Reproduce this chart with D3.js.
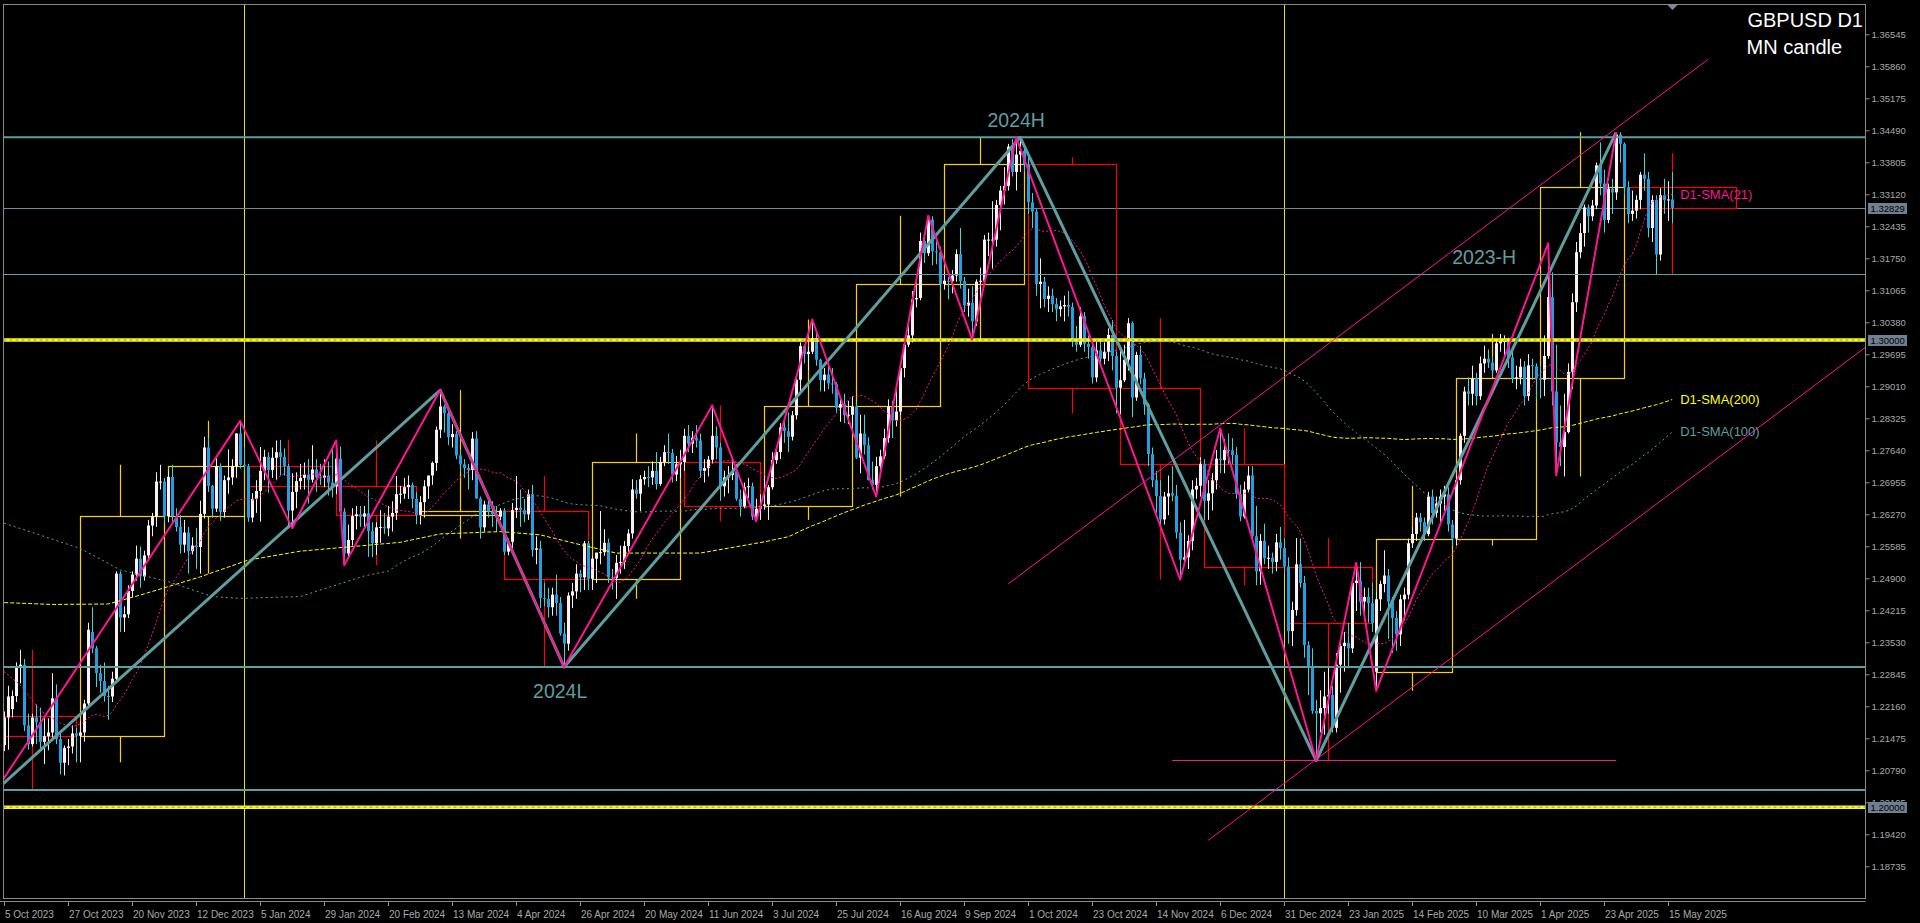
<!DOCTYPE html>
<html><head><meta charset="utf-8">
<script src="https://cdn.jsdelivr.net/npm/d3@7"></script>
<style>html,body{margin:0;padding:0;background:#000;overflow:hidden}</style>
</head><body><svg id="c" width="1920" height="923"></svg>
<script>
// ---------------- DATA ----------------
const holidays = ["2023-12-25","2024-01-01","2024-12-25","2025-01-01"];
const firstDay = "2023-10-02";
const firstLabelDay = "2023-10-05";
// daily [open, high, low, close] per month
const oct23 = [[1.2195,1.2200,1.2075,1.2075],[1.2075,1.2107,1.2037,1.2093],[1.2093,1.2148,1.2053,1.2133],[1.2133,1.2205,1.2120,1.2192],[1.2192,1.2260,1.2123,1.2237],[1.2210,1.2250,1.2192,1.2238],[1.2238,1.2310,1.2225,1.2300],[1.2300,1.2337,1.2265,1.2305],[1.2305,1.2317,1.2163,1.2175],[1.2175,1.2200,1.2123,1.2135],[1.2135,1.2200,1.2130,1.2192],[1.2192,1.2220,1.2135,1.2182],[1.2182,1.2213,1.2120,1.2140],[1.2140,1.2190,1.2092,1.2152],[1.2152,1.2190,1.2122,1.2160],[1.2160,1.2287,1.2145,1.2233],[1.2233,1.2263,1.2135,1.2146],[1.2146,1.2160,1.2070,1.2095],[1.2095,1.2132,1.2068,1.2127],[1.2127,1.2146,1.2090,1.2130],[1.2130,1.2175,1.2115,1.2158],[1.2158,1.2170,1.2096,1.2153]];
const nov23 = [[1.2153,1.2185,1.2096,1.2160],[1.2160,1.2230,1.2140,1.2222],[1.2222,1.2395,1.2215,1.2380],[1.2375,1.2428,1.2330,1.2340],[1.2340,1.2345,1.2257,1.2287],[1.2287,1.2305,1.2245,1.2270],[1.2270,1.2310,1.2226,1.2238],[1.2238,1.2260,1.2187,1.2237],[1.2237,1.2290,1.2225,1.2275],[1.2275,1.2505,1.2270,1.2500],[1.2500,1.2505,1.2375,1.2406],[1.2406,1.2430,1.2375,1.2413],[1.2413,1.2475,1.2405,1.2463],[1.2463,1.2505,1.2450,1.2498],[1.2498,1.2560,1.2485,1.2532],[1.2532,1.2558,1.2470,1.2494],[1.2494,1.2549,1.2485,1.2539],[1.2539,1.2615,1.2533,1.2603],[1.2603,1.2630,1.2580,1.2622],[1.2622,1.2717,1.2600,1.2697],[1.2697,1.2733,1.2680,1.2697],[1.2697,1.2705,1.2610,1.2623]];
const dec23 = [[1.2623,1.2720,1.2610,1.2707],[1.2707,1.2733,1.2608,1.2623],[1.2623,1.2640,1.2590,1.2600],[1.2600,1.2625,1.2543,1.2562],[1.2562,1.2615,1.2545,1.2588],[1.2588,1.2600,1.2500,1.2548],[1.2548,1.2578,1.2541,1.2560],[1.2560,1.2598,1.2510,1.2557],[1.2557,1.2656,1.2500,1.2628],[1.2628,1.2793,1.2618,1.2770],[1.2770,1.2790,1.2675,1.2688],[1.2688,1.2690,1.2620,1.2639],[1.2639,1.2747,1.2632,1.2730],[1.2730,1.2736,1.2613,1.2632],[1.2632,1.2710,1.2620,1.2700],[1.2700,1.2766,1.2671,1.2706],[1.2706,1.2745,1.2690,1.2730],[1.2730,1.2801,1.2705,1.2800],[1.2800,1.2827,1.2725,1.2733],[1.2733,1.2772,1.2720,1.2730]];
const jan24 = [[1.2730,1.2735,1.2611,1.2620],[1.2620,1.2672,1.2610,1.2660],[1.2660,1.2700,1.2630,1.2677],[1.2677,1.2771,1.2611,1.2720],[1.2720,1.2765,1.2700,1.2750],[1.2750,1.2760,1.2673,1.2722],[1.2722,1.2770,1.2705,1.2748],[1.2748,1.2785,1.2700,1.2760],[1.2760,1.2786,1.2710,1.2750],[1.2750,1.2768,1.2710,1.2730],[1.2730,1.2735,1.2597,1.2635],[1.2635,1.2715,1.2597,1.2675],[1.2675,1.2717,1.2640,1.2698],[1.2698,1.2735,1.2680,1.2705],[1.2705,1.2738,1.2680,1.2712],[1.2712,1.2745,1.2650,1.2701],[1.2701,1.2775,1.2695,1.2723],[1.2723,1.2745,1.2675,1.2706],[1.2706,1.2735,1.2690,1.2705],[1.2705,1.2745,1.2685,1.2710],[1.2710,1.2740,1.2667,1.2695],[1.2695,1.2773,1.2663,1.2687]];
const feb24 = [[1.2687,1.2785,1.2670,1.2746],[1.2746,1.2772,1.2620,1.2633],[1.2633,1.2640,1.2518,1.2543],[1.2543,1.2605,1.2535,1.2572],[1.2572,1.2640,1.2560,1.2623],[1.2623,1.2645,1.2595,1.2627],[1.2627,1.2645,1.2600,1.2622],[1.2622,1.2645,1.2600,1.2629],[1.2629,1.2680,1.2536,1.2591],[1.2591,1.2610,1.2535,1.2565],[1.2565,1.2610,1.2540,1.2599],[1.2599,1.2636,1.2566,1.2600],[1.2600,1.2630,1.2585,1.2597],[1.2597,1.2645,1.2580,1.2622],[1.2622,1.2655,1.2590,1.2630],[1.2630,1.2709,1.2615,1.2670],[1.2670,1.2688,1.2650,1.2671],[1.2671,1.2705,1.2660,1.2685],[1.2685,1.2710,1.2660,1.2690],[1.2690,1.2695,1.2640,1.2660],[1.2660,1.2675,1.2606,1.2625]];
const mar24 = [[1.2625,1.2666,1.2605,1.2653],[1.2653,1.2700,1.2620,1.2687],[1.2687,1.2710,1.2660,1.2710],[1.2710,1.2740,1.2690,1.2737],[1.2737,1.2815,1.2720,1.2808],[1.2808,1.2893,1.2790,1.2858],[1.2858,1.2862,1.2802,1.2843],[1.2843,1.2848,1.2775,1.2792],[1.2792,1.2820,1.2770,1.2799],[1.2799,1.2805,1.2745,1.2753],[1.2753,1.2765,1.2717,1.2734],[1.2734,1.2745,1.2705,1.2726],[1.2726,1.2735,1.2680,1.2722],[1.2722,1.2803,1.2700,1.2789],[1.2789,1.2805,1.2660,1.2661],[1.2661,1.2665,1.2575,1.2599],[1.2599,1.2656,1.2590,1.2648],[1.2648,1.2665,1.2620,1.2633],[1.2633,1.2655,1.2600,1.2627],[1.2627,1.2645,1.2590,1.2622],[1.2622,1.2640,1.2614,1.2635]];
const apr24 = [[1.2635,1.2640,1.2540,1.2547],[1.2547,1.2575,1.2539,1.2568],[1.2568,1.2651,1.2555,1.2636],[1.2636,1.2709,1.2619,1.2641],[1.2641,1.2680,1.2600,1.2636],[1.2636,1.2660,1.2610,1.2627],[1.2627,1.2680,1.2615,1.2670],[1.2670,1.2690,1.2536,1.2551],[1.2551,1.2580,1.2520,1.2554],[1.2554,1.2570,1.2426,1.2448],[1.2448,1.2480,1.2430,1.2446],[1.2446,1.2470,1.2406,1.2428],[1.2428,1.2470,1.2410,1.2455],[1.2455,1.2498,1.2410,1.2437],[1.2437,1.2450,1.2367,1.2372],[1.2372,1.2395,1.2300,1.2350],[1.2350,1.2460,1.2335,1.2453],[1.2453,1.2480,1.2426,1.2462],[1.2462,1.2520,1.2446,1.2500],[1.2500,1.2508,1.2460,1.2492],[1.2492,1.2570,1.2465,1.2565],[1.2565,1.2570,1.2465,1.2489]];
const may24 = [[1.2489,1.2537,1.2465,1.2532],[1.2532,1.2545,1.2480,1.2545],[1.2545,1.2634,1.2520,1.2546],[1.2546,1.2595,1.2538,1.2566],[1.2566,1.2575,1.2480,1.2492],[1.2492,1.2510,1.2466,1.2491],[1.2491,1.2540,1.2446,1.2523],[1.2523,1.2560,1.2500,1.2525],[1.2525,1.2570,1.2510,1.2559],[1.2559,1.2595,1.2540,1.2586],[1.2586,1.2702,1.2575,1.2680],[1.2680,1.2700,1.2660,1.2671],[1.2671,1.2711,1.2634,1.2702],[1.2702,1.2720,1.2690,1.2707],[1.2707,1.2730,1.2685,1.2706],[1.2706,1.2740,1.2690,1.2720],[1.2720,1.2760,1.2680,1.2692],[1.2692,1.2750,1.2688,1.2739],[1.2739,1.2775,1.2730,1.2760],[1.2760,1.2800,1.2735,1.2758],[1.2758,1.2767,1.2695,1.2712],[1.2712,1.2752,1.2698,1.2734],[1.2734,1.2765,1.2705,1.2739]];
const jun24 = [[1.2739,1.2810,1.2720,1.2795],[1.2795,1.2818,1.2760,1.2778],[1.2778,1.2805,1.2758,1.2791],[1.2791,1.2818,1.2770,1.2785],[1.2785,1.2800,1.2705,1.2720],[1.2720,1.2745,1.2695,1.2726],[1.2726,1.2752,1.2708,1.2744],[1.2744,1.2860,1.2735,1.2795],[1.2795,1.2815,1.2745,1.2770],[1.2770,1.2780,1.2656,1.2687],[1.2687,1.2720,1.2665,1.2706],[1.2706,1.2730,1.2672,1.2711],[1.2711,1.2742,1.2700,1.2719],[1.2719,1.2735,1.2656,1.2660],[1.2660,1.2680,1.2622,1.2644],[1.2644,1.2695,1.2640,1.2685],[1.2685,1.2705,1.2662,1.2687],[1.2687,1.2695,1.2615,1.2622],[1.2622,1.2660,1.2612,1.2639],[1.2639,1.2670,1.2615,1.2645]];
const jul24 = [[1.2645,1.2710,1.2637,1.2648],[1.2648,1.2690,1.2615,1.2685],[1.2685,1.2760,1.2680,1.2743],[1.2743,1.2770,1.2735,1.2760],[1.2760,1.2822,1.2745,1.2813],[1.2813,1.2830,1.2780,1.2805],[1.2805,1.2845,1.2760,1.2793],[1.2793,1.2848,1.2785,1.2839],[1.2839,1.2920,1.2830,1.2915],[1.2915,1.2995,1.2890,1.2987],[1.2987,1.2990,1.2950,1.2970],[1.2970,1.2985,1.2935,1.2975],[1.2975,1.3044,1.2970,1.3004],[1.3004,1.3020,1.2945,1.2958],[1.2958,1.2960,1.2890,1.2914],[1.2914,1.2940,1.2890,1.2926],[1.2926,1.2945,1.2895,1.2907],[1.2907,1.2940,1.2885,1.2906],[1.2906,1.2910,1.2845,1.2855],[1.2855,1.2875,1.2825,1.2863],[1.2863,1.2885,1.2822,1.2839],[1.2839,1.2870,1.2820,1.2840],[1.2840,1.2880,1.2805,1.2858]];
const aug24 = [[1.2858,1.2865,1.2745,1.2748],[1.2748,1.2840,1.2715,1.2800],[1.2800,1.2840,1.2755,1.2775],[1.2775,1.2792,1.2700,1.2700],[1.2700,1.2740,1.2680,1.2690],[1.2690,1.2750,1.2665,1.2730],[1.2730,1.2765,1.2715,1.2751],[1.2751,1.2810,1.2745,1.2790],[1.2790,1.2873,1.2780,1.2857],[1.2857,1.2870,1.2790,1.2828],[1.2828,1.2895,1.2815,1.2847],[1.2847,1.2950,1.2840,1.2940],[1.2940,1.2995,1.2920,1.2990],[1.2990,1.3030,1.2985,1.3010],[1.3010,1.3105,1.2995,1.3087],[1.3087,1.3130,1.3070,1.3090],[1.3090,1.3230,1.3085,1.3212],[1.3212,1.3229,1.3165,1.3186],[1.3186,1.3266,1.3180,1.3258],[1.3258,1.3265,1.3160,1.3190],[1.3190,1.3230,1.3162,1.3188],[1.3188,1.3200,1.3105,1.3120]];
const sep24 = [[1.3120,1.3145,1.3108,1.3127],[1.3127,1.3135,1.3087,1.3126],[1.3126,1.3150,1.3100,1.3138],[1.3138,1.3194,1.3125,1.3184],[1.3184,1.3240,1.3110,1.3126],[1.3126,1.3135,1.3060,1.3074],[1.3074,1.3110,1.3050,1.3080],[1.3080,1.3115,1.3001,1.3040],[1.3040,1.3130,1.3030,1.3125],[1.3125,1.3155,1.3090,1.3127],[1.3127,1.3225,1.3125,1.3215],[1.3215,1.3230,1.3180,1.3215],[1.3215,1.3297,1.3153,1.3215],[1.3215,1.3300,1.3200,1.3289],[1.3289,1.3330,1.3235,1.3320],[1.3320,1.3370,1.3290,1.3330],[1.3330,1.3420,1.3320,1.3414],[1.3414,1.3430,1.3350,1.3360],[1.3360,1.3434,1.3320,1.3397],[1.3397,1.3434,1.3360,1.3405],[1.3405,1.3415,1.3360,1.3376]];
const oct24 = [[1.3376,1.3391,1.3270,1.3295],[1.3295,1.3315,1.3240,1.3275],[1.3275,1.3280,1.3095,1.3120],[1.3120,1.3175,1.3068,1.3125],[1.3125,1.3135,1.3070,1.3088],[1.3088,1.3115,1.3060,1.3095],[1.3095,1.3110,1.3060,1.3077],[1.3077,1.3090,1.3040,1.3066],[1.3066,1.3085,1.3050,1.3072],[1.3072,1.3095,1.3040,1.3075],[1.3075,1.3105,1.3050,1.3071],[1.3071,1.3080,1.2985,1.3000],[1.3000,1.3030,1.2975,1.2990],[1.2990,1.3070,1.2985,1.3051],[1.3051,1.3060,1.2975,1.2992],[1.2992,1.3010,1.2960,1.2985],[1.2985,1.2990,1.2907,1.2920],[1.2920,1.2996,1.2910,1.2978],[1.2978,1.3000,1.2945,1.2960],[1.2960,1.2995,1.2948,1.2975],[1.2975,1.3025,1.2955,1.3011],[1.3011,1.3043,1.2935,1.2966],[1.2966,1.2975,1.2843,1.2898]];
const nov24 = [[1.2898,1.2986,1.2842,1.2914],[1.2914,1.2990,1.2910,1.2958],[1.2958,1.3047,1.2935,1.3036],[1.3036,1.3040,1.2835,1.2877],[1.2877,1.2975,1.2870,1.2968],[1.2968,1.2988,1.2905,1.2918],[1.2918,1.2930,1.2840,1.2862],[1.2862,1.2865,1.2730,1.2756],[1.2756,1.2770,1.2685,1.2700],[1.2700,1.2720,1.2630,1.2666],[1.2666,1.2700,1.2597,1.2616],[1.2616,1.2675,1.2605,1.2665],[1.2665,1.2710,1.2625,1.2672],[1.2672,1.2730,1.2655,1.2667],[1.2667,1.2690,1.2575,1.2588],[1.2588,1.2610,1.2487,1.2530],[1.2530,1.2615,1.2520,1.2535],[1.2535,1.2582,1.2510,1.2570],[1.2570,1.2700,1.2550,1.2680],[1.2680,1.2705,1.2660,1.2688],[1.2688,1.2749,1.2665,1.2735]];
const dec24 = [[1.2735,1.2745,1.2615,1.2656],[1.2656,1.2700,1.2615,1.2672],[1.2672,1.2715,1.2635,1.2700],[1.2700,1.2765,1.2680,1.2746],[1.2746,1.2811,1.2715,1.2743],[1.2743,1.2788,1.2715,1.2765],[1.2765,1.2800,1.2735,1.2764],[1.2764,1.2790,1.2735,1.2754],[1.2754,1.2771,1.2660,1.2671],[1.2671,1.2690,1.2612,1.2622],[1.2622,1.2697,1.2618,1.2680],[1.2680,1.2730,1.2675,1.2710],[1.2710,1.2730,1.2575,1.2580],[1.2580,1.2645,1.2475,1.2505],[1.2505,1.2585,1.2476,1.2570],[1.2570,1.2607,1.2520,1.2533],[1.2533,1.2560,1.2510,1.2534],[1.2534,1.2545,1.2500,1.2525],[1.2525,1.2585,1.2505,1.2567],[1.2567,1.2600,1.2530,1.2555],[1.2555,1.2575,1.2500,1.2515]];
const jan25 = [[1.2515,1.2535,1.2350,1.2377],[1.2377,1.2440,1.2345,1.2422],[1.2422,1.2576,1.2410,1.2520],[1.2520,1.2575,1.2470,1.2480],[1.2480,1.2495,1.2320,1.2347],[1.2347,1.2355,1.2240,1.2300],[1.2300,1.2340,1.2200,1.2206],[1.2206,1.2230,1.2100,1.2201],[1.2201,1.2250,1.2160,1.2212],[1.2212,1.2290,1.2155,1.2237],[1.2237,1.2300,1.2200,1.2240],[1.2240,1.2260,1.2160,1.2170],[1.2170,1.2330,1.2160,1.2305],[1.2305,1.2360,1.2245,1.2345],[1.2345,1.2375,1.2290,1.2352],[1.2352,1.2395,1.2300,1.2340],[1.2340,1.2490,1.2330,1.2480],[1.2480,1.2523,1.2420,1.2485],[1.2485,1.2525,1.2410,1.2440],[1.2440,1.2470,1.2400,1.2450],[1.2450,1.2470,1.2395,1.2437],[1.2437,1.2480,1.2375,1.2394]];
const feb25 = [[1.2290,1.2460,1.2249,1.2445],[1.2445,1.2485,1.2420,1.2478],[1.2478,1.2550,1.2460,1.2496],[1.2496,1.2510,1.2360,1.2440],[1.2440,1.2450,1.2330,1.2405],[1.2405,1.2420,1.2335,1.2370],[1.2370,1.2455,1.2345,1.2445],[1.2445,1.2470,1.2400,1.2455],[1.2455,1.2575,1.2445,1.2565],[1.2565,1.2600,1.2555,1.2585],[1.2585,1.2630,1.2570,1.2620],[1.2620,1.2630,1.2590,1.2610],[1.2610,1.2620,1.2570,1.2585],[1.2585,1.2675,1.2580,1.2665],[1.2665,1.2680,1.2605,1.2630],[1.2630,1.2665,1.2620,1.2650],[1.2650,1.2680,1.2610,1.2665],[1.2665,1.2688,1.2635,1.2670],[1.2670,1.2685,1.2590,1.2605],[1.2605,1.2615,1.2560,1.2575]];
const mar25 = [[1.2575,1.2710,1.2560,1.2700],[1.2700,1.2800,1.2690,1.2795],[1.2795,1.2900,1.2780,1.2890],[1.2890,1.2920,1.2860,1.2885],[1.2885,1.2945,1.2860,1.2918],[1.2918,1.2930,1.2860,1.2880],[1.2880,1.2965,1.2872,1.2950],[1.2950,1.2988,1.2930,1.2960],[1.2960,1.2980,1.2940,1.2952],[1.2952,1.2965,1.2920,1.2935],[1.2935,1.3000,1.2930,1.2993],[1.2993,1.3013,1.2975,1.2998],[1.2998,1.3010,1.2965,1.2998],[1.2998,1.3005,1.2940,1.2963],[1.2963,1.2975,1.2908,1.2918],[1.2918,1.2945,1.2895,1.2920],[1.2920,1.2960,1.2905,1.2943],[1.2943,1.2955,1.2860,1.2880],[1.2880,1.2970,1.2870,1.2946],[1.2946,1.2960,1.2915,1.2944],[1.2944,1.2950,1.2875,1.2918]];
const apr25 = [[1.2918,1.2945,1.2875,1.2915],[1.2915,1.3010,1.2880,1.2966],[1.2966,1.3207,1.2960,1.3092],[1.3092,1.3145,1.2860,1.2890],[1.2890,1.2990,1.2710,1.2781],[1.2781,1.2860,1.2730,1.2771],[1.2771,1.2885,1.2708,1.2803],[1.2803,1.2950,1.2800,1.2932],[1.2932,1.3100,1.2895,1.3081],[1.3081,1.3210,1.3060,1.3188],[1.3188,1.3250,1.3175,1.3229],[1.3229,1.3290,1.3200,1.3284],[1.3284,1.3290,1.3230,1.3265],[1.3265,1.3300,1.3255,1.3288],[1.3288,1.3380,1.3280,1.3374],[1.3374,1.3423,1.3310,1.3335],[1.3335,1.3365,1.3230,1.3257],[1.3257,1.3335,1.3250,1.3324],[1.3324,1.3345,1.3270,1.3316],[1.3316,1.3445,1.3300,1.3440],[1.3440,1.3445,1.3380,1.3420],[1.3420,1.3423,1.3310,1.3327]];
const may25 = [[1.3327,1.3340,1.3250,1.3270],[1.3270,1.3320,1.3255,1.3277],[1.3277,1.3310,1.3260,1.3300],[1.3300,1.3360,1.3280,1.3354],[1.3354,1.3400,1.3320,1.3345],[1.3345,1.3360,1.3220,1.3240],[1.3240,1.3310,1.3210,1.3300],[1.3300,1.3310,1.3140,1.3183],[1.3183,1.3325,1.3170,1.3310],[1.3310,1.3345,1.3270,1.3300],[1.3300,1.3340,1.3255,1.3301],[1.3301,1.3360,1.3250,1.32829]];

const sma21Early = [[0,1.2290],[4,1.2262],[9,1.2207],[14,1.2180]];
const sma100Early = [[0,1.2608],[19,1.2554],[29,1.2508],[41,1.2483],[52,1.2451],[59,1.2447],[74,1.2451],[90,1.2495]];
const sma200Early = [[0,1.2438],[12,1.2434],[26,1.2435],[34,1.2454],[49,1.2493],[61,1.2529],[74,1.2548],[99,1.2567],[109,1.2585],[124,1.2590],[134,1.2583],[144,1.2562],[153,1.2544],[174,1.2544],[190,1.2568]];

// zigzags [date, price]
const bigZigzag = [["2023-10-03",1.2037],["2024-03-08",1.2893],["2024-04-22",1.2300],["2024-09-27",1.3434],["2025-01-13",1.2100],["2025-04-28",1.3445]];
const smallZigzag = [["2023-10-03",1.2037],["2023-12-28",1.2827],["2024-01-17",1.2597],["2024-02-01",1.2785],["2024-02-05",1.2518],["2024-03-08",1.2893],["2024-04-22",1.2300],["2024-06-12",1.2860],["2024-06-27",1.2612],["2024-07-17",1.3044],["2024-08-08",1.2665],["2024-08-27",1.3266],["2024-09-11",1.3001],["2024-09-26",1.3434],["2024-11-22",1.2487],["2024-12-06",1.2811],["2025-01-13",1.2100],["2025-01-27",1.2523],["2025-02-03",1.2249],["2025-04-03",1.3207],["2025-04-07",1.2710],["2025-04-28",1.3445]];
// trend lines [[date, price],[date, price]]
const upperTrend = [["2024-09-24",1.2478],["2025-05-25",1.3601]];
const lowerTrend = [["2024-12-03",1.1929],["2025-07-04",1.2989]];
const lowLine = [["2024-11-20",1.2100],["2025-04-28",1.2100]];
// horizontal levels
const levelThick = [1.3434, 1.2300, 1.2037];
const levelThin = [1.3142];
const roundLevels = [1.30000, 1.20000];
const yearMarks = ["2024-01-01","2025-01-01"];
const levelTexts = [{t:"2024H", d:"2024-09-26", p:1.3434, pos:"above"},{t:"2024L", d:"2024-04-19", p:1.2300, pos:"below"},{t:"2023-H", d:"2025-03-12", p:1.3142, pos:"above"}];
// axis labels
const priceTicks = [1.36545,1.35860,1.35175,1.34490,1.33805,1.33120,1.32435,1.31750,1.31065,1.30380,1.29695,1.29010,1.28325,1.27640,1.26955,1.26270,1.25585,1.24900,1.24215,1.23530,1.22845,1.22160,1.21475,1.20790,1.20105,1.19420,1.18735];
const dateTicks = ["2023-10-05","2023-10-27","2023-11-20","2023-12-12","2024-01-05","2024-01-29","2024-02-20","2024-03-13","2024-04-04","2024-04-26","2024-05-20","2024-06-11","2024-07-03","2024-07-25","2024-08-16","2024-09-09","2024-10-01","2024-10-23","2024-11-14","2024-12-06","2024-12-31","2025-01-23","2025-02-14","2025-03-10","2025-04-01","2025-04-23","2025-05-15"];
const title1 = "GBPUSD D1", title2 = "MN candle";

// ---------------- BUILD ----------------
const months = [oct23,nov23,dec23,jan24,feb24,mar24,apr24,may24,jun24,jul24,aug24,sep24,oct24,nov24,dec24,jan25,feb25,mar25,apr25,may25];
const rows = months.flat();
const dayMs = 864e5;
const dates = [];
{ let t = Date.parse(firstDay);
  while (dates.length < rows.length) {
    const s = new Date(t).toISOString().slice(0,10), wd = new Date(t).getUTCDay();
    if (wd !== 0 && wd !== 6 && !holidays.includes(s)) dates.push(s);
    t += dayMs; } }
const OFF = dates.indexOf(firstLabelDay);
const bars = rows.map((r,k)=>({k, i:k-OFF, date:dates[k], t:Date.parse(dates[k]), o:r[0], h:r[1], l:r[2], c:r[3]}));
const last = bars[bars.length-1];

const BAR = 4;
const L = 3.5, R = 1865.5, T = 4.5, B = 898.5;
const X = d3.scaleLinear().domain([0, last.i]).range([4.2, 4.2 + BAR*last.i]);
const P = d3.scaleLinear().domain([1.36545, 1.18735]).range([34.3, 866.3]);
const bis = d3.bisector(b=>b.t).right;
function timeX(v){
  const t = typeof v === "number" ? v : Date.parse(v);
  if (t > last.t) return X(last.i) + BAR*(t-last.t)/dayMs;
  const j = bis(bars, t) - 1;
  if (j < 0) return X(bars[0].i) - BAR*(bars[0].t - t)/dayMs;
  return X(bars[j].i);
}
const crisp = v => Math.round(v) + 0.5;

const svg = d3.select("#c");
svg.append("rect").attr("width",1920).attr("height",923).attr("fill","#000");
svg.append("defs").append("clipPath").attr("id","clip").append("rect")
  .attr("x",L+0.5).attr("y",T+0.5).attr("width",R-L-1).attr("height",B-T-1);
const g = svg.append("g").attr("clip-path","url(#clip)");

const CADET = "#5f9ea0", PINK = "#ff1493", GOLD = "#ffd000", RED = "#ff0000";

// year separators
g.selectAll("line.yr").data(yearMarks).join("line")
  .attr("x1",d=>crisp(timeX(d))).attr("x2",d=>crisp(timeX(d))).attr("y1",T).attr("y2",B)
  .attr("stroke","#e6e600").attr("stroke-width",1);

// current price line
g.append("line").attr("x1",L).attr("x2",R).attr("y1",crisp(P(last.c))).attr("y2",crisp(P(last.c)))
  .attr("stroke","#778899").attr("stroke-width",1);

// monthly candles
const monthly = d3.groups(bars, b=>b.date.slice(0,7)).map(([key, bs])=>{
  const y=+key.slice(0,4), m=+key.slice(5,7)-1;
  const start = Date.UTC(y,m,1), dim = new Date(Date.UTC(y,m+1,0)).getUTCDate();
  const isCur = bs[bs.length-1] === last;
  return {o:bs[0].o, c:bs[bs.length-1].c, h:d3.max(bs,b=>b.h), l:d3.min(bs,b=>b.l),
    x0:X(bs[0].i), x1: isCur ? timeX(Date.UTC(y,m+1,1)) : X(bs[bs.length-1].i),
    xm: timeX(start + (dim-1)/2*dayMs)};
});
const mg = g.append("g").attr("fill","none").attr("stroke-width",1.2);
monthly.forEach(m=>{
  const col = m.c >= m.o ? GOLD : RED;
  const top = P(Math.max(m.o,m.c)), bot = P(Math.min(m.o,m.c));
  mg.append("rect").attr("x",crisp(m.x0)).attr("y",crisp(top)).attr("width",Math.round(m.x1)-Math.round(m.x0))
    .attr("height",Math.max(1,Math.round(bot)-Math.round(top))).attr("stroke",col);
  mg.append("line").attr("x1",crisp(m.xm)).attr("x2",crisp(m.xm)).attr("y1",P(m.h)).attr("y2",crisp(top)).attr("stroke",col);
  mg.append("line").attr("x1",crisp(m.xm)).attr("x2",crisp(m.xm)).attr("y1",crisp(bot)).attr("y2",P(m.l)).attr("stroke",col);
});

// candles
const cg = g.append("g");
const cx = b => Math.round(X(b.i));
cg.selectAll("line.w").data(bars).join("line")
  .attr("x1",b=>cx(b)+0.5).attr("x2",b=>cx(b)+0.5).attr("y1",b=>P(b.h)).attr("y2",b=>P(b.l))
  .attr("stroke",b=>b.c>=b.o ? "#f4f0f0" : "#3fd6d6").attr("stroke-width",1);
cg.selectAll("rect.b").data(bars).join("rect")
  .attr("x",b=>cx(b)-1).attr("width",3)
  .attr("y",b=>P(Math.max(b.o,b.c))).attr("height",b=>Math.max(1,Math.abs(P(b.o)-P(b.c))))
  .attr("fill",b=>b.c>=b.o ? "#fbf1f1" : "#229fe0");

// level lines
g.selectAll("line.lt").data(levelThick).join("line").attr("x1",L).attr("x2",R)
  .attr("y1",d=>P(d)).attr("y2",d=>P(d)).attr("stroke",CADET).attr("stroke-width",2);
g.selectAll("line.ln").data(levelThin).join("line").attr("x1",L).attr("x2",R)
  .attr("y1",d=>crisp(P(d))).attr("y2",d=>crisp(P(d))).attr("stroke",CADET).attr("stroke-width",1);
g.selectAll("line.ry").data(roundLevels).join("line").attr("x1",L).attr("x2",R)
  .attr("y1",d=>P(d)).attr("y2",d=>P(d)).attr("stroke","#ffff00").attr("stroke-width",3.5);
g.selectAll("line.rd").data(roundLevels).join("line").attr("x1",L).attr("x2",R)
  .attr("y1",d=>P(d)).attr("y2",d=>P(d)).attr("stroke","#8a8aa8").attr("stroke-width",1).attr("stroke-dasharray","3,3");

// SMAs
const closes = bars.map(b=>b.c);
const sma = n => bars.filter(b=>b.k>=n-1).map(b=>[b.i, d3.mean(closes.slice(b.k-n+1,b.k+1))]);
const sma21 = sma21Early.concat(sma(21));
const sma100 = sma100Early.concat(sma(100));
const sma200 = sma200Early.concat(sma(200));
const ln = d3.line().x(d=>X(d[0])).y(d=>P(d[1]));
const smaSpec = [[sma200,"#ffff00","4,2","D1-SMA(200)"],[sma100,"#5f9ea0","2,3","D1-SMA(100)"],[sma21,PINK,"2,2","D1-SMA(21)"]];
smaSpec.forEach(([s,col,dash])=>{
  g.append("path").attr("d",ln(s)).attr("fill","none").attr("stroke",col).attr("stroke-width",1).attr("stroke-dasharray",dash);
});

// trend lines
const tl = d3.line().x(d=>timeX(d[0])).y(d=>P(d[1]));
[upperTrend, lowerTrend, lowLine].forEach(s=>{
  g.append("path").attr("d",tl(s)).attr("fill","none").attr("stroke",PINK).attr("stroke-width",1);
});
// zigzags
g.append("path").attr("d",tl(bigZigzag)).attr("fill","none").attr("stroke",CADET).attr("stroke-width",3).attr("stroke-linejoin","round");
g.append("path").attr("d",tl(smallZigzag)).attr("fill","none").attr("stroke",PINK).attr("stroke-width",2).attr("stroke-linejoin","round");

// level texts
g.selectAll("text.lv").data(levelTexts).join("text")
  .attr("x",d=>timeX(d.d)).attr("y",d=>d.pos==="above" ? P(d.p)-10 : P(d.p)+31)
  .attr("text-anchor","middle").attr("fill",CADET)
  .style("font-family","'Liberation Sans', Arial, sans-serif").style("font-size","19.5px").text(d=>d.t);

// SMA labels
smaSpec.forEach(([s,col,dash,label])=>{
  const lv = s[s.length-1];
  svg.append("text").attr("x",X(lv[0])+8).attr("y",P(lv[1])+4.5).attr("fill",col)
    .style("font-family","'Liberation Sans', Arial, sans-serif").style("font-size","13px").text(label);
});

// titles
svg.append("text").attr("x",1863).attr("y",27).attr("text-anchor","end").attr("fill","#fff")
  .style("font-family","'Liberation Sans', Arial, sans-serif").style("font-size","20px").text(title1);
svg.append("text").attr("x",1746.5).attr("y",53.5).attr("fill","#fff")
  .style("font-family","'Liberation Sans', Arial, sans-serif").style("font-size","20px").text(title2);

// frame
svg.append("rect").attr("x",L).attr("y",T).attr("width",R-L).attr("height",B-T).attr("fill","none").attr("stroke","#8a8a8a").attr("stroke-width",1);
svg.append("line").attr("x1",0).attr("x2",R).attr("y1",901.5).attr("y2",901.5).attr("stroke","#8a8a8a");
// last bar marker
svg.append("path").attr("d",d3.line()([[cx(last)-4.5,T+0.5],[cx(last)+5.5,T+0.5],[cx(last)+0.5,T+5.5]])+"Z").attr("fill","#7a8a9a");

// right price axis
const ya = d3.axisRight(P).tickValues(priceTicks).tickFormat(d3.format(".5f")).tickSize(4).tickPadding(2);
const yg = svg.append("g").attr("transform",`translate(${R},0)`).call(ya);
yg.select(".domain").remove();
yg.selectAll("line").attr("stroke","#8a8a8a");
yg.selectAll("text").attr("fill","#a8a8a8").style("font-family","'Liberation Sans', Arial, sans-serif").style("font-size","9.5px");

// price boxes
const boxes = roundLevels.concat([last.c]);
const bg = svg.append("g");
boxes.forEach(p=>{
  bg.append("rect").attr("x",R+2.5).attr("y",Math.round(P(p))-5).attr("width",39).attr("height",11).attr("fill","#6f8090");
  bg.append("text").attr("x",R+5).attr("y",Math.round(P(p))+4).attr("fill","#000")
    .style("font-family","'Liberation Sans', Arial, sans-serif").style("font-size","9.5px").text(d3.format(".5f")(p));
});

// bottom date axis
const fmt = d3.utcFormat("%-d %b %Y");
const xg = svg.append("g");
dateTicks.forEach(d=>{
  const x = crisp(timeX(d));
  xg.append("line").attr("x1",x).attr("x2",x).attr("y1",901.5).attr("y2",906).attr("stroke","#8a8a8a");
  xg.append("text").attr("x",x+0.5).attr("y",917.5).attr("fill","#a8a8a8")
    .style("font-family","'Liberation Sans', Arial, sans-serif").style("font-size","10px").text(fmt(new Date(Date.parse(d))));
});
</script></body></html>
